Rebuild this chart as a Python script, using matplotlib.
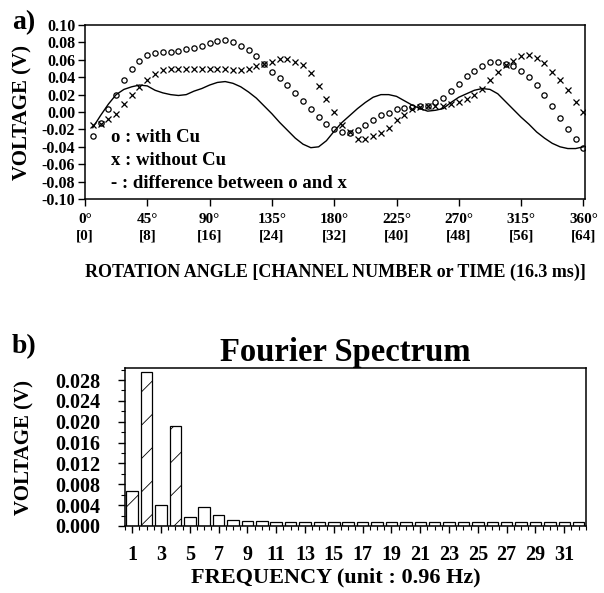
import numpy as np
import matplotlib
matplotlib.use("Agg")
import matplotlib.pyplot as plt
from matplotlib.ticker import MultipleLocator

plt.rcParams['font.family'] = ['Liberation Serif', 'DejaVu Serif']
plt.rcParams['font.weight'] = 'bold'
plt.rcParams['axes.labelweight'] = 'bold'
plt.rcParams['axes.titleweight'] = 'bold'
plt.rcParams['hatch.linewidth'] = 0.6

# channel numbers 1..64 (64 channels = 360 degrees)
channels = list(range(1, 65))

with_cu = [-0.028, -0.013, 0.003, 0.020, 0.037, 0.049, 0.059, 0.065, 0.068, 0.069,
           0.069, 0.070, 0.072, 0.074, 0.076, 0.079, 0.082, 0.083, 0.081, 0.076,
           0.071, 0.064, 0.055, 0.046, 0.039, 0.031, 0.022, 0.013, 0.004, -0.006,
           -0.014, -0.020, -0.023, -0.024, -0.021, -0.015, -0.009, -0.004, -0.001, 0.003,
           0.005, 0.006, 0.007, 0.007, 0.011, 0.016, 0.024, 0.032, 0.041, 0.047,
           0.053, 0.057, 0.058, 0.055, 0.053, 0.047, 0.040, 0.031, 0.020, 0.007,
           -0.007, -0.020, -0.031, -0.041]

without_cu = [-0.015, -0.014, -0.008, -0.002, 0.009, 0.019, 0.029, 0.037, 0.044, 0.048,
              0.050, 0.050, 0.050, 0.050, 0.050, 0.050, 0.049, 0.049, 0.048, 0.048,
              0.050, 0.053, 0.055, 0.058, 0.061, 0.061, 0.058, 0.054, 0.045, 0.030,
              0.015, 0.000, -0.015, -0.023, -0.031, -0.031, -0.028, -0.024, -0.018, -0.009,
              -0.003, 0.004, 0.006, 0.007, 0.007, 0.007, 0.009, 0.012, 0.015, 0.020,
              0.027, 0.037, 0.046, 0.054, 0.059, 0.064, 0.065, 0.062, 0.056, 0.046,
              0.037, 0.025, 0.012, 0.000]

difference = [-0.018, -0.004, 0.009, 0.020, 0.026, 0.029, 0.031, 0.030, 0.025, 0.022,
              0.020, 0.019, 0.020, 0.024, 0.027, 0.031, 0.034, 0.035, 0.033, 0.029,
              0.023, 0.016, 0.007, -0.002, -0.012, -0.021, -0.030, -0.037, -0.041, -0.040,
              -0.033, -0.022, -0.012, -0.004, 0.004, 0.011, 0.017, 0.020, 0.020, 0.018,
              0.013, 0.008, 0.004, 0.001, 0.002, 0.004, 0.011, 0.017, 0.021, 0.025,
              0.027, 0.026, 0.021, 0.012, 0.003, -0.006, -0.014, -0.023, -0.030, -0.036,
              -0.040, -0.042, -0.042, -0.040]

angle_ticks = [0, 8, 16, 24, 32, 40, 48, 56, 64]
angle_labels = ['0°\n[0]', '45°\n[8]', '90°\n[16]', '135°\n[24]', '180°\n[32]',
                '225°\n[40]', '270°\n[48]', '315°\n[56]', '360°\n[64]']

# Fourier spectrum
freqs = list(range(1, 33))
amplitudes = [0.0068, 0.0296, 0.0040, 0.0192, 0.0017, 0.0036, 0.0021, 0.0012, 0.0010, 0.0009,
              0.0008, 0.0008, 0.0008, 0.0008, 0.0007, 0.0007, 0.0007, 0.0007, 0.0007, 0.0007,
              0.0007, 0.0007, 0.0007, 0.0007, 0.0008, 0.0007, 0.0007, 0.0007, 0.0007, 0.0007,
              0.0007, 0.0007]
hatched = [1, 2, 4]

fig = plt.figure(figsize=(6.04, 5.93), dpi=100)

# ---- panel a ----
ax1 = fig.add_axes([0.1407, 0.6644, 0.8278, 0.2934])
ax1.plot(channels, difference, color='black', lw=1.0)
ax1.plot(channels, with_cu, 'o', ms=3.8, mfc='none', mec='black', mew=0.9)
ax1.plot(channels, without_cu, 'x', ms=5, color='black', mew=0.9)
ax1.set_xlim(0, 64.2)
ax1.set_ylim(-0.10, 0.10)
ax1.set_yticks(np.arange(-0.10, 0.1001, 0.02))
ax1.set_yticklabels(['%.2f' % v for v in np.arange(-0.10, 0.1001, 0.02)], fontsize=11.5)
ax1.set_xticks(angle_ticks)
ax1.set_xticklabels(angle_labels, fontsize=11, linespacing=1.35)
ax1.tick_params(direction='out', length=5, width=1, pad=5)
ax1.tick_params(axis='y', pad=2)
ax1.set_ylabel('VOLTAGE (V)', fontsize=15)
ax1.yaxis.set_label_coords(-0.104, 0.5)
ax1.set_xlabel('ROTATION ANGLE [CHANNEL NUMBER or TIME (16.3 ms)]', fontsize=13)
ax1.xaxis.set_label_coords(0.5, -0.37)
for s in ax1.spines.values():
    s.set_linewidth(1.1)
ax1.text(0.052, 0.356, 'o : with Cu', transform=ax1.transAxes, fontsize=13.5, va='center')
ax1.text(0.052, 0.224, 'x : without Cu', transform=ax1.transAxes, fontsize=13.5, va='center')
ax1.text(0.052, 0.092, '- : difference between o and x', transform=ax1.transAxes, fontsize=13.5, va='center')
fig.text(0.02, 0.962, 'a)', fontsize=20, va='center')

# ---- panel b ----
ax2 = fig.add_axes([0.207, 0.113, 0.763, 0.2664])
bars = ax2.bar(freqs, amplitudes, width=0.8, color='white', edgecolor='black', lw=0.9)
for f, b in zip(freqs, bars):
    if f in hatched:
        b.set_hatch('/')
ax2.set_xlim(0.5, 32.5)
ax2.set_ylim(0, 0.0303)
ax2.set_yticks(np.arange(0, 0.0281, 0.004))
ax2.set_yticklabels(['%.3f' % v for v in np.arange(0, 0.0281, 0.004)], fontsize=14.5)
ax2.yaxis.set_minor_locator(MultipleLocator(0.002))
ax2.set_xticks(range(1, 33, 2))
ax2.set_xticklabels([str(v) for v in range(1, 33, 2)], fontsize=14.5)
ax2.xaxis.set_minor_locator(MultipleLocator(0.5))
ax2.tick_params(direction='out', length=5, width=1)
ax2.tick_params(axis='x', pad=9)
ax2.tick_params(axis='y', pad=13)
ax2.tick_params(which='minor', direction='out', length=3, width=0.8)
ax2.set_ylabel('VOLTAGE (V)', fontsize=15)
ax2.yaxis.set_label_coords(-0.197, 0.5)
ax2.set_xlabel('FREQUENCY (unit : 0.96 Hz)', fontsize=16)
ax2.xaxis.set_label_coords(0.458, -0.262)
ax2.set_title('Fourier Spectrum', fontsize=23.5, pad=5, x=0.477)
for s in ax2.spines.values():
    s.set_linewidth(1.1)
fig.text(0.02, 0.415, 'b)', fontsize=20, va='center')

plt.savefig('out.png', dpi=100)
